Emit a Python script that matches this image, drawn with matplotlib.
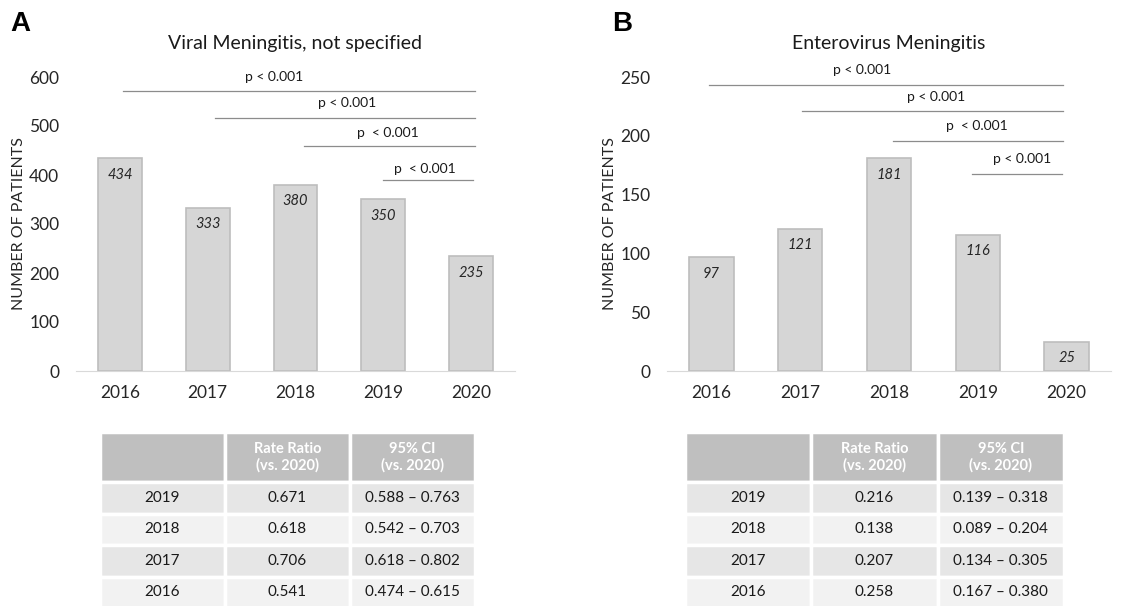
import matplotlib
matplotlib.use("Agg")
from matplotlib import pyplot as plt

plt.rcParams['font.family'] = ['Lato', 'DejaVu Sans']

years = ["2016", "2017", "2018", "2019", "2020"]

# panel A: viral meningitis, not specified
viral_counts = [434, 333, 380, 350, 235]
viral_sig_start = [0.03, 1.08, 2.1, 3.0]
viral_sig_end = [4.05, 4.05, 4.05, 4.02]
viral_sig_y = [572, 516, 459, 390]
viral_p_x = [1.76, 2.59, 3.05, 3.47]
viral_p_y = [600, 547, 486, 412]
viral_p_text = ["p < 0.001", "p < 0.001", "p  < 0.001", "p  < 0.001"]

# panel B: enterovirus meningitis
entero_counts = [97, 121, 181, 116, 25]
entero_sig_start = [-0.03, 1.02, 2.05, 2.93]
entero_sig_end = [3.96, 3.96, 3.96, 3.95]
entero_sig_y = [243, 221, 196, 167.5]
entero_p_x = [1.70, 2.53, 2.99, 3.5]
entero_p_y = [256, 233, 208, 180]
entero_p_text = ["p < 0.001", "p < 0.001", "p  < 0.001", "p < 0.001"]

table_header = ["", "Rate Ratio\n(vs. 2020)", "95% CI\n(vs. 2020)"]
table_years = ["2019", "2018", "2017", "2016"]
viral_rr = ["0.671", "0.618", "0.706", "0.541"]
viral_ci = ["0.588 \u2013 0.763", "0.542 \u2013 0.703", "0.618 \u2013 0.802", "0.474 \u2013 0.615"]
entero_rr = ["0.216", "0.138", "0.207", "0.258"]
entero_ci = ["0.139 \u2013 0.318", "0.089 \u2013 0.204", "0.134 \u2013 0.305", "0.167 \u2013 0.380"]

W, H = 1135, 606


def bar_panel(ax, counts, ymax, yticks, title, sig_start, sig_end, sig_y, p_x, p_y, p_text):
    x = list(range(len(years)))
    ax.bar(x, counts, width=0.5, color='#d6d6d6', edgecolor='#bdbdbd', linewidth=1.2, zorder=2)
    for xi, v in zip(x, counts):
        ax.annotate(str(v), (xi, v), xytext=(0, -12), textcoords='offset points',
                    ha='center', va='center', fontsize=10.5, style='italic', color='#262626')
    for s, e, y in zip(sig_start, sig_end, sig_y):
        ax.plot([s, e], [y, y], color='#8c8c8c', lw=0.9, clip_on=False)
    for px, py, t in zip(p_x, p_y, p_text):
        ax.text(px, py, t, ha='center', va='center', fontsize=10, color='#1a1a1a', clip_on=False)
    ax.set_xlim(-0.5, 4.5)
    ax.set_ylim(0, ymax)
    ax.set_yticks(yticks)
    ax.set_xticks(x)
    ax.set_xticklabels(years)
    ax.tick_params(axis='both', length=0, labelsize=12.5, colors='#262626')
    ax.tick_params(axis='x', pad=10)
    ax.tick_params(axis='y', pad=12)
    for side in ['top', 'right', 'left']:
        ax.spines[side].set_visible(False)
    ax.spines['bottom'].set_color('#d9d9d9')
    ax.set_ylabel("NUMBER OF PATIENTS", fontsize=11.5, color='#262626', labelpad=2)
    ax.set_title(title, fontsize=14, color='#1a1a1a', pad=20)


def stat_table(fig, left, right, top, bottom, rr, ci):
    ax = fig.add_axes([left / W, (H - bottom) / H, (right - left) / W, (bottom - top) / H])
    ax.axis('off')
    cells = [[y, r, c] for y, r, c in zip(table_years, rr, ci)]
    tab = ax.table(cellText=cells, colLabels=table_header, cellLoc='center',
                   bbox=[0, 0, 1, 1])
    tab.auto_set_font_size(False)
    for (row, col), cell in tab.get_celld().items():
        cell.set_edgecolor('white')
        cell.set_linewidth(2.5)
        if row == 0:
            cell.set_height(cell.get_height() * 1.6)
            cell.set_facecolor('#bfbfbf')
            cell.get_text().set_color('white')
            cell.get_text().set_fontweight('bold')
            cell.get_text().set_fontsize(10.5)
        else:
            cell.set_facecolor('#e6e6e6' if row % 2 == 1 else '#f2f2f2')
            cell.get_text().set_color('#1a1a1a')
            cell.get_text().set_fontsize(11)
    return tab


fig = plt.figure(figsize=(W / 100, H / 100), dpi=100)

axA = fig.add_axes([76 / W, (H - 371) / H, (515 - 76) / W, (371 - 77) / H])
bar_panel(axA, viral_counts, 600, [0, 100, 200, 300, 400, 500, 600],
          "Viral Meningitis, not specified",
          viral_sig_start, viral_sig_end, viral_sig_y, viral_p_x, viral_p_y, viral_p_text)

axB = fig.add_axes([667 / W, (H - 371) / H, (1111 - 667) / W, (371 - 77) / H])
bar_panel(axB, entero_counts, 250, [0, 50, 100, 150, 200, 250],
          "Enterovirus Meningitis",
          entero_sig_start, entero_sig_end, entero_sig_y, entero_p_x, entero_p_y, entero_p_text)

stat_table(fig, 100, 475, 432, 608, viral_rr, viral_ci)
stat_table(fig, 685, 1064, 432, 608, entero_rr, entero_ci)

fig.text(10 / W, 1 - 24 / H, "A", fontsize=20, fontweight='bold', family='Liberation Sans', va='center')
fig.text(612 / W, 1 - 24 / H, "B", fontsize=20, fontweight='bold', family='Liberation Sans', va='center')

fig.savefig("out.png", dpi=100)
